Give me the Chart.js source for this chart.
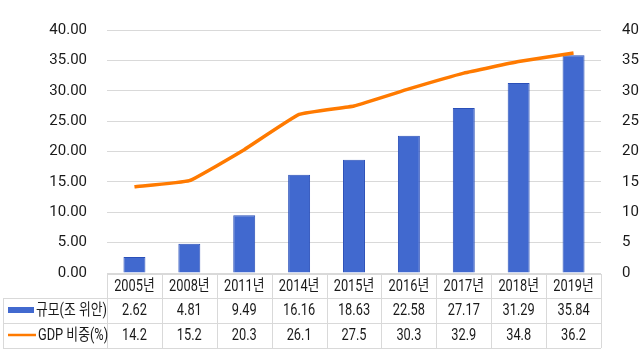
<!DOCTYPE html>
<html>
<head>
<meta charset="utf-8">
<script src="https://cdn.jsdelivr.net/npm/chart.js@4"></script>
<style>
  html, body { margin: 0; padding: 0; background: #fff; }
  #wrap { width: 640px; height: 354px; }
</style>
</head>
<body>
<div id="wrap"><canvas id="scaleChart" width="640" height="354"></canvas></div>
<script>
let years = ["2005년", "2008년", "2011년", "2014년", "2015년", "2016년", "2017년", "2018년", "2019년"];
let scaleValues = [2.62, 4.81, 9.49, 16.16, 18.63, 22.58, 27.17, 31.29, 35.84];
let gdpShare = [14.2, 15.2, 20.3, 26.1, 27.5, 30.3, 32.9, 34.8, 36.2];
let seriesNames = ["규모(조 위안)", "GDP 비중(%)"];

const FONT = "Roboto, 'Noto Sans CJK KR', sans-serif";
const BAR_COLOR = "#4169cf";
const LINE_COLOR = "#ff7a00";
const GRID = "#d9d9d9";
const TEXT = "#1a1a1a";
const SQUEEZE = 0.8;

// condensed text for the table (the reference uses a narrow face)
function narrowText(ctx, text, x, y, align) {
    ctx.save();
    ctx.translate(x, y);
    ctx.scale(SQUEEZE, 1);
    ctx.textAlign = align;
    ctx.fillText(text, 0, 0);
    ctx.restore();
}

// data table under the plot, aligned to the category scale
const dataTable = {
    id: "dataTable",
    afterDraw(chart) {
        let ctx = chart.ctx;
        let x = chart.scales.x;
        let left = chart.chartArea.left;
        let right = chart.chartArea.right;
        let step = (right - left) / years.length;
        let top = chart.chartArea.bottom + 1;
        let rows = [top, 298, 323, 348];
        ctx.save();
        ctx.strokeStyle = GRID;
        ctx.lineWidth = 1;
        ctx.beginPath();
        ctx.moveTo(left, rows[0] + 0.5);
        ctx.lineTo(right, rows[0] + 0.5);
        for (let r = 1; r < rows.length; r++) {
            ctx.moveTo(3, rows[r] + 0.5);
            ctx.lineTo(right, rows[r] + 0.5);
        }
        ctx.moveTo(3.5, rows[1]);
        ctx.lineTo(3.5, rows[3]);
        for (let i = 0; i <= years.length; i++) {
            let xx = Math.round(left + i * step) + 0.5;
            ctx.moveTo(xx, rows[0]);
            ctx.lineTo(xx, rows[3]);
        }
        ctx.stroke();

        ctx.fillStyle = TEXT;
        ctx.font = "16px " + FONT;
        ctx.textBaseline = "middle";
        years.forEach((y, i) => {
            let cx = x.getPixelForValue(i);
            narrowText(ctx, y, cx, 287, "center");
            narrowText(ctx, scaleValues[i].toFixed(2), cx, 311, "center");
            narrowText(ctx, gdpShare[i].toFixed(1), cx, 336, "center");
        });

        // legend keys
        ctx.fillStyle = BAR_COLOR;
        ctx.fillRect(8, 307, 26, 6);
        ctx.strokeStyle = LINE_COLOR;
        ctx.lineWidth = 2.5;
        ctx.beginPath();
        ctx.moveTo(8, 335);
        ctx.lineTo(36, 335);
        ctx.stroke();
        ctx.fillStyle = TEXT;
        narrowText(ctx, seriesNames[0], 36, 311, "left");
        narrowText(ctx, seriesNames[1], 38, 336, "left");
        ctx.restore();
    }
};

new Chart("scaleChart", {
    type: "bar",
    data: {
        labels: years,
        datasets: [{
            type: "line",
            label: seriesNames[1],
            data: gdpShare,
            yAxisID: "y2",
            borderColor: LINE_COLOR,
            borderWidth: 3.5,
            pointRadius: 0,
            tension: 0.1,
            order: 0
        }, {
            label: seriesNames[0],
            data: scaleValues,
            yAxisID: "y",
            backgroundColor: BAR_COLOR,
            borderColor: "#2a4fb8",
            borderWidth: 1,
            barPercentage: 0.4,
            categoryPercentage: 1,
            order: 1
        }]
    },
    options: {
        responsive: false,
        animation: false,
        layout: { padding: { top: 22, bottom: 81, left: 0, right: 0 } },
        plugins: {
            legend: { display: false },
            tooltip: { enabled: false }
        },
        scales: {
            x: { display: false },
            y: {
                position: "left",
                min: 0, max: 40,
                ticks: {
                    stepSize: 5,
                    padding: 20,
                    color: TEXT,
                    font: { family: FONT, size: 15 },
                    callback: v => v.toFixed(2)
                },
                grid: { color: GRID, drawTicks: false },
                border: { display: false },
                afterFit: s => { s.width = 107; }
            },
            y2: {
                position: "right",
                min: 0, max: 40,
                ticks: {
                    stepSize: 5,
                    padding: 21,
                    color: TEXT,
                    font: { family: FONT, size: 15 }
                },
                grid: { display: false, drawTicks: false },
                border: { display: false },
                afterFit: s => { s.width = 39; }
            }
        }
    },
    plugins: [dataTable]
});
</script>
</body>
</html>
